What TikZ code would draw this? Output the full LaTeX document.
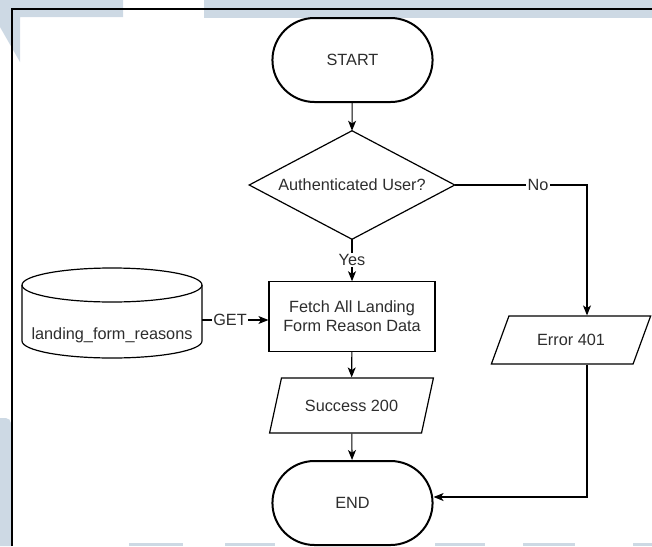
\documentclass[tikz,border=0pt]{standalone}
\usepackage{fontspec}
\setmainfont{Liberation Sans}
\usetikzlibrary{shapes.geometric,shapes.misc,arrows.meta}
\definecolor{wm}{RGB}{205,217,228}
\definecolor{txt}{RGB}{45,45,45}
\begin{document}
\begin{tikzpicture}[x=0.75pt,y=-0.75pt,
  font=\fontsize{12.2}{14.5}\selectfont,
  term/.style={rounded rectangle, draw, line width=1.5pt, minimum width=126.75pt, minimum height=63pt, text=txt},
  decbox/.style={rectangle, minimum width=153.75pt, minimum height=81pt, inner sep=0pt, text=txt},
  procbox/.style={rectangle, draw, line width=0.9pt, minimum width=124.5pt, minimum height=52pt, align=center, text=txt},
  iobox/.style={trapezium, trapezium stretches=true, draw, line width=0.9pt, text=txt},
  arr/.style={-{Stealth[length=7.5pt,width=6pt,inset=2pt]}, line width=0.8pt},
  lbl/.style={fill=white, inner sep=1pt, text=txt}]
\useasboundingbox (0,0) rectangle (652,546);
% watermark background
\fill[wm] (0,0) -- (123,0) -- (123,17) -- (20,17) -- (20,62) -- (0,27) -- cycle;
\fill[wm] (204,0) rectangle (652,18);
\fill[wm] (0,546) -- (0,418) [rounded corners=4pt] -- (11,418) [sharp corners] -- (11,546) -- cycle;
\foreach \a/\b in {129/183,225/275,435/485,523/575,633/652}
  \fill[wm] (\a,543) rectangle (\b,546);
% frame
\draw[line width=0.9pt] (12,546) -- (12,9) -- (652,9);
% nodes
\node[term] (start) at (352.5,60) {START};
\node[decbox] (auth) at (352,185) {Authenticated User?};
\draw[line width=0.9pt] (auth.north) -- (auth.east) -- (auth.south) -- (auth.west) -- cycle;
\node[procbox] (fetch) at (352,316.5) {Fetch All Landing\\Form Reason Data};
\node[iobox, trapezium left angle=67, trapezium right angle=113, minimum width=123.75pt, minimum height=41.25pt] (succ) at (351.5,405.5) {Success 200};
\node[iobox, trapezium left angle=62, trapezium right angle=118, minimum width=120pt, minimum height=36pt] (err) at (571,340) {Error 401};
\node[term] (end) at (352.5,503) {END};
% database cylinder
\node[minimum width=135pt, minimum height=57pt, inner sep=0pt] (db) at (112,320) {};
\draw[line width=0.9pt] (22,285) arc[start angle=180, end angle=360, x radius=90, y radius=17]
  -- (202,341) arc[start angle=0, end angle=180, x radius=90, y radius=17] -- cycle;
\draw[line width=0.9pt] (22,285) arc[start angle=180, end angle=0, x radius=90, y radius=17];
\node[text=txt] (dbtxt) at (112,335) {landing\_form\_reasons};
% connectors
\coordinate (nx) at (587,185);
\coordinate (endin) at ([yshift=4.5pt]end.east);
\draw[arr] (start) -- (auth.north);
\draw[arr] (auth.south) -- node[lbl]{Yes} (fetch.north);
\draw[arr] (auth.east) -- node[lbl, pos=0.63]{No} (nx) -- (err.north -| nx);
\draw[arr] (db.east) -- node[lbl, pos=0.42]{GET} (db.east -| fetch.west);
\draw[arr] (fetch) -- (succ);
\draw[arr] (succ) -- (end);
\draw[arr] (err.south -| nx) -- (nx |- endin) -- (endin);
\end{tikzpicture}
\end{document}
